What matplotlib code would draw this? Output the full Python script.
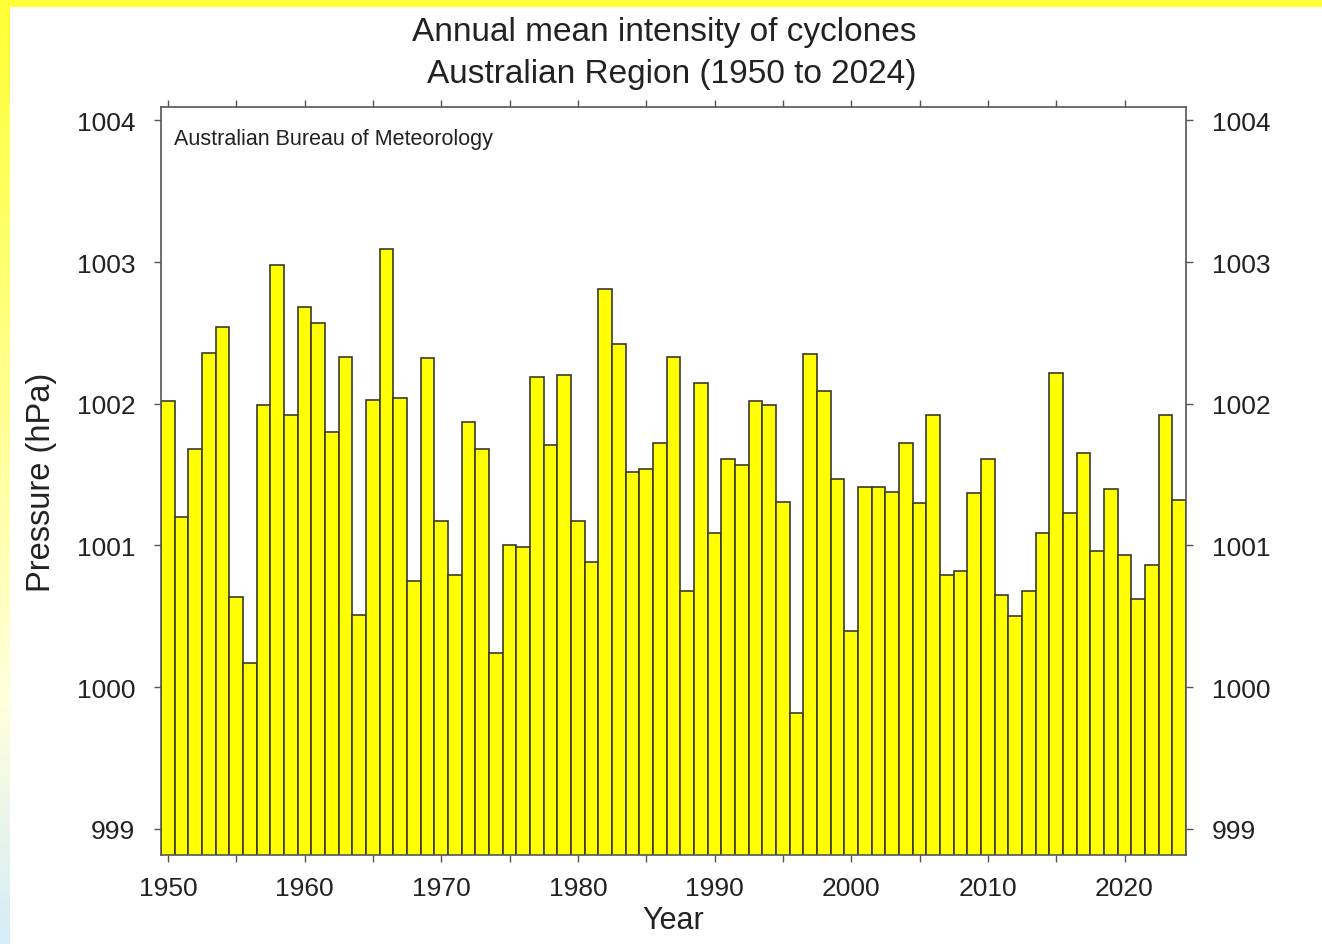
import numpy as np
import matplotlib
matplotlib.use('Agg')
import matplotlib.pyplot as plt
from matplotlib.colors import LinearSegmentedColormap


years = list(range(1950, 2025))
pressure = [
    1002.02, 1001.20, 1001.68, 1002.36, 1002.54, 1000.64, 1000.17, 1001.99, 1002.98, 1001.92,
    1002.68, 1002.57, 1001.80, 1002.33, 1000.51, 1002.03, 1003.09, 1002.04, 1000.75, 1002.32,
    1001.17, 1000.79, 1001.87, 1001.68, 1000.24, 1001.00, 1000.99, 1002.19, 1001.71, 1002.20,
    1001.17, 1000.88, 1002.81, 1002.42, 1001.52, 1001.54, 1001.72, 1002.33, 1000.68, 1002.15,
    1001.09, 1001.61, 1001.57, 1002.02, 1001.99, 1001.31, 999.82, 1002.35, 1002.09, 1001.47,
    1000.40, 1001.41, 1001.41, 1001.38, 1001.72, 1001.30, 1001.92, 1000.79, 1000.82, 1001.37,
    1001.61, 1000.65, 1000.50, 1000.68, 1001.09, 1002.22, 1001.23, 1001.65, 1000.96, 1001.40,
    1000.93, 1000.62, 1000.86, 1001.92, 1001.32,
]
y_ticks = [999, 1000, 1001, 1002, 1003, 1004]
x_labels = [1950, 1960, 1970, 1980, 1990, 2000, 2010, 2020]

W, H = 1322, 945
plt.rcParams['font.family'] = ['Liberation Sans', 'DejaVu Sans']

fig = plt.figure(figsize=(W / 100, H / 100), dpi=100)
fig.patch.set_facecolor('white')

# page border: yellow strip on top, yellow-to-blue gradient on the left
top = fig.add_axes([0, 1 - 8 / H, 1, 8 / H])
top.set_facecolor('#ffff33')
top.set_xticks([])
top.set_yticks([])
for s in top.spines.values():
    s.set_visible(False)

side = fig.add_axes([0, 0, 10 / W, 1])
cmap = LinearSegmentedColormap.from_list(
    'edge', [(0, '#ffff33'), (0.35, '#ffff80'), (0.75, '#ffffdd'), (1, '#d4ecf8')])
side.imshow(np.linspace(0, 1, 256).reshape(-1, 1), aspect='auto', cmap=cmap)
side.axis('off')

ax = fig.add_axes([161 / W, 1 - 856 / H, (1186 - 161) / W, (856 - 108) / H])
base = 998.5
ax.bar(years, np.array(pressure) - base, bottom=base, width=1.0,
       color='#ffff00', edgecolor='#3a3a2a', linewidth=1.2)

ax.set_xlim(1949.5, 2024.5)
ax.set_ylim(998.816, 1004.094)

ax.set_xticks(range(1950, 2025, 5))
ax.set_xticklabels([str(y) if y in x_labels else '' for y in range(1950, 2025, 5)])
ax.set_yticks(y_ticks)
ax.set_yticklabels([str(v) for v in y_ticks])
ax.tick_params(axis='both', direction='out', length=5, width=1, color='#555555',
               labelsize=19, labelcolor='#222222', top=True, right=True, labelright=True)
ax.tick_params(axis='x', pad=10)
ax.tick_params(axis='y', pad=13.5)
for s in ax.spines.values():
    s.set_color('#555555')
    s.set_linewidth(1.2)

ax.set_xlabel('Year', fontsize=22, labelpad=4, color='#222222')
ax.set_ylabel('Pressure (hPa)', fontsize=23.5, labelpad=14, color='#222222')

ax.text(0.013, 0.972, 'Australian Bureau of Meteorology', transform=ax.transAxes,
        ha='left', va='top', fontsize=15.5, color='#222222')

fig.text(664 / W, 1 - 32 / H, 'Annual mean intensity of cyclones',
         ha='center', va='center', fontsize=24, color='#222222')
fig.text(672 / W, 1 - 75 / H, 'Australian Region (1950 to 2024)',
         ha='center', va='center', fontsize=24, color='#222222')

fig.savefig('out.png', dpi=100)
